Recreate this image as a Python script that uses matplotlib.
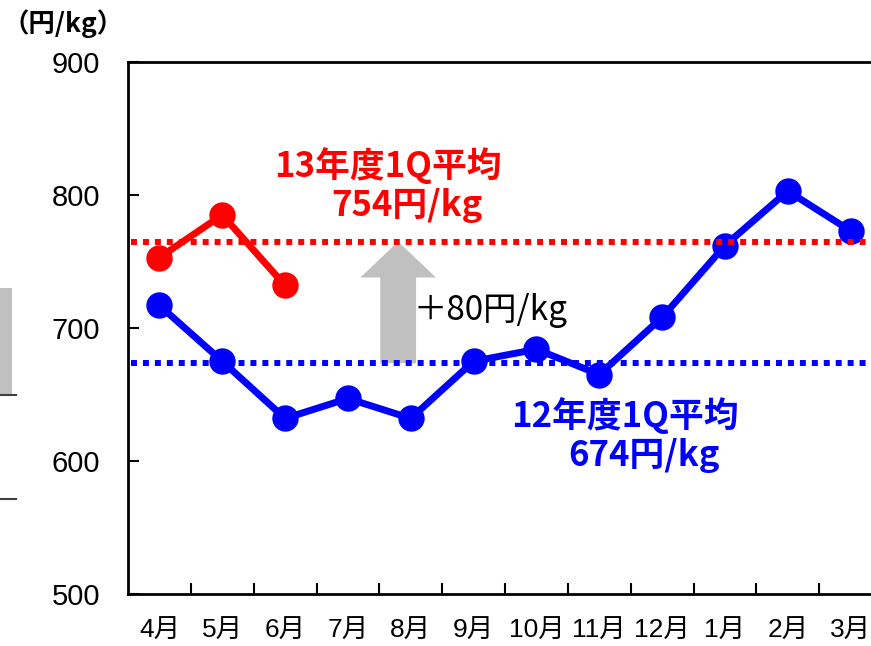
import matplotlib
matplotlib.use("Agg")
import matplotlib.pyplot as plt
from matplotlib.patches import FancyArrow, Rectangle
from matplotlib.lines import Line2D

plt.rcParams['font.family'] = ['Liberation Sans', 'Noto Sans CJK JP', 'DejaVu Sans']

months = ['4月', '5月', '6月', '7月', '8月', '9月', '10月', '11月', '12月', '1月', '2月', '3月']
price_fy12 = [717, 675, 632, 647, 632, 675, 684, 665, 708, 762, 803, 773]
price_fy13 = [753, 785, 732]
avg_fy12 = 673.5   # dotted line level as drawn
avg_fy13 = 765     # dotted line level as drawn
label_fy12 = ['12年度1Q平均', '674円/kg']
label_fy13 = ['13年度1Q平均', '754円/kg']
diff_label = '＋80円/kg'

blue = '#0000FF'
red = '#FF0000'
jp = ['Noto Sans CJK JP', 'DejaVu Sans']

fig = plt.figure(figsize=(8.71, 6.46), dpi=100)
ax = fig.add_axes([128 / 871, 1 - 594 / 646, 754 / 871, 532 / 646])

x = list(range(len(months)))

# average lines
ax.plot([-0.45, 11.5], [avg_fy12, avg_fy12], color=blue, lw=4.3,
        linestyle=(0, (1, 1)), dash_capstyle='butt', zorder=2)
ax.plot(x, price_fy12, color=blue, lw=5, marker='o', markersize=18, zorder=3)
ax.plot([-0.45, 11.5], [avg_fy13, avg_fy13], color=red, lw=4.3,
        linestyle=(0, (1, 1)), dash_capstyle='butt', zorder=4)
ax.plot(x[:len(price_fy13)], price_fy13, color=red, lw=5, marker='o', markersize=18, zorder=5)

# gray arrow from FY12 average up to FY13 average
arrow = FancyArrow(3.8, avg_fy12, 0, avg_fy13 - avg_fy12, width=0.57, head_width=1.2,
                   head_length=27, length_includes_head=True, color='#C0C0C0', lw=0, zorder=1)
ax.add_patch(arrow)

ax.text(4.04, 713, diff_label, fontsize=24, color='black', family=jp, va='center', ha='left')
ax.text(1.82, 822, label_fy13[0], fontsize=25, color=red, family=jp, weight='bold', va='center', ha='left')
ax.text(2.73, 792, label_fy13[1], fontsize=25, color=red, family=jp, weight='bold', va='center', ha='left')
ax.text(5.59, 634, label_fy12[0], fontsize=25, color=blue, family=jp, weight='bold', va='center', ha='left')
ax.text(6.51, 604, label_fy12[1], fontsize=25, color=blue, family=jp, weight='bold', va='center', ha='left')

ax.set_xlim(-0.5, 11.5)
ax.set_ylim(500, 900)
ax.set_yticks([500, 600, 700, 800, 900])
ax.set_xticks(x)
ax.set_xticklabels(months, fontsize=19)
ax.set_xticks([i + 0.5 for i in range(11)], minor=True)
ax.tick_params(axis='x', which='major', length=0, pad=18)
ax.tick_params(axis='x', which='minor', direction='in', length=8, width=1.5)
ax.tick_params(axis='y', direction='in', length=8, width=1.5, labelsize=21, pad=20)
for s in ax.spines.values():
    s.set_linewidth(2)

fig.text(0.003, 1 - 24 / 646, '（円/kg）', fontsize=19, weight='bold', family=jp,
         va='center', ha='left')

# fragment of neighbouring chart at the left edge
fig.add_artist(Rectangle((0, 1 - 395 / 646), 12 / 871, 107 / 646, transform=fig.transFigure,
                         color='#C0C0C0', lw=0))
for py in (395, 499):
    fig.add_artist(Line2D([0, 16 / 871], [1 - py / 646, 1 - py / 646], transform=fig.transFigure,
                          color='#404040', lw=1.5))

fig.savefig('out.png', dpi=100)
